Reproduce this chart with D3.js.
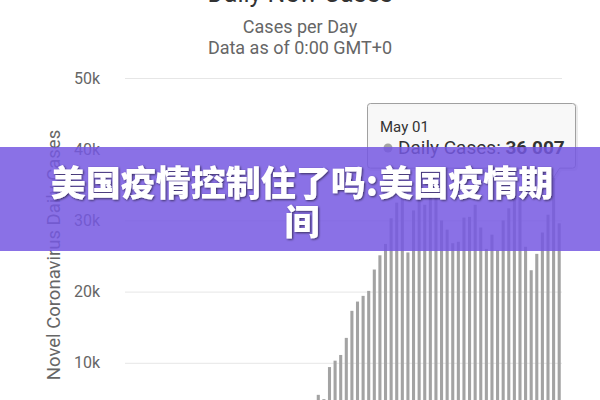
<!DOCTYPE html>
<html>
<head>
<meta charset="utf-8">
<script src="https://cdn.jsdelivr.net/npm/d3@7"></script>
<style>
  html, body { margin: 0; padding: 0; background: #fff; }
  svg { display: block; font-family: Roboto, "Noto Sans", sans-serif; }
</style>
</head>
<body>
<svg id="chart" width="600" height="400"></svg>
<script>
const dates = [
  "Feb 15","Feb 16","Feb 17","Feb 18","Feb 19","Feb 20","Feb 21","Feb 22","Feb 23","Feb 24","Feb 25","Feb 26","Feb 27","Feb 28","Feb 29",
  "Mar 01","Mar 02","Mar 03","Mar 04","Mar 05","Mar 06","Mar 07","Mar 08","Mar 09","Mar 10","Mar 11","Mar 12","Mar 13","Mar 14","Mar 15","Mar 16","Mar 17","Mar 18","Mar 19","Mar 20","Mar 21","Mar 22","Mar 23","Mar 24","Mar 25","Mar 26","Mar 27","Mar 28","Mar 29","Mar 30","Mar 31",
  "Apr 01","Apr 02","Apr 03","Apr 04","Apr 05","Apr 06","Apr 07","Apr 08","Apr 09","Apr 10","Apr 11","Apr 12","Apr 13","Apr 14","Apr 15","Apr 16","Apr 17","Apr 18","Apr 19","Apr 20","Apr 21","Apr 22","Apr 23","Apr 24","Apr 25","Apr 26","Apr 27","Apr 28","Apr 29","Apr 30",
  "May 01","May 02"
];
const dailyCases = [
  0,0,0,0,0,0,2,0,0,36,0,0,1,0,8,
  7,23,20,31,68,45,140,116,65,376,322,382,516,548,772,1133,1789,2800,4200,5500,4900,9400,10300,11100,13500,17300,18600,19400,20100,23100,25100,
  26700,30300,32500,33600,25500,31400,33600,32200,33600,33500,30000,28700,26800,27000,30400,30500,32200,29000,26000,28000,25800,30000,31700,34500,33800,26300,23000,25300,28300,30800,
  36007,29600
];
const yTicks = [0, 10000, 20000, 30000, 40000, 50000];
const yTickLabels = ["0", "10k", "20k", "30k", "40k", "50k"];
const titleText = "Daily New Cases";
const subtitleLines = ["Cases per Day", "Data as of 0:00 GMT+0"];
const yAxisTitle = "Novel Coronavirus Daily Cases";
const tooltipDate = "May 01";
const tooltipLabel = "Daily Cases: ";
const bannerLines = ["美国疫情控制住了吗:美国疫情期", "间"];

const svg = d3.select("#chart");
const W = 600, H = 400;
const plot = { left: 125, right: 562, top: 78, bottom: 434 };

svg.append("rect").attr("width", W).attr("height", H).attr("fill", "#fff");

const x = d3.scaleBand().domain(dates).range([plot.left, plot.right]).paddingInner(0.45).paddingOuter(0.225);
const y = d3.scaleLinear().domain([0, 50000]).range([plot.bottom, plot.top]);

// title & subtitles
svg.append("text").attr("x", 300).attr("y", 2).attr("text-anchor", "middle")
  .attr("font-size", 25).attr("fill", "#333").text(titleText);
svg.selectAll("text.sub").data(subtitleLines).join("text").attr("class", "sub")
  .attr("x", 300).attr("y", (d, i) => 33 + i * 21).attr("text-anchor", "middle")
  .attr("font-size", 18).attr("fill", "#666").text(d => d);

// grid + y axis labels
const yAxis = d3.axisLeft(y).tickValues(yTicks)
  .tickFormat((d, i) => yTickLabels[i])
  .tickSize(-(plot.right - plot.left)).tickPadding(25);
const gy = svg.append("g").attr("transform", `translate(${plot.left},0)`).call(yAxis);
gy.select(".domain").remove();
gy.selectAll(".tick line").attr("stroke", "#e6e6e6").attr("stroke-width", 1);
gy.selectAll(".tick text").attr("fill", "#666").attr("font-size", 16)
  .attr("font-family", "Roboto, sans-serif");

// y axis title
svg.append("text").attr("transform", `translate(60,255) rotate(-90)`)
  .attr("text-anchor", "middle").attr("font-size", 18.5).attr("fill", "#666").text(yAxisTitle);

// bars
svg.append("g").selectAll("rect").data(dates).join("rect")
  .attr("x", d => x(d)).attr("width", x.bandwidth())
  .attr("y", (d, i) => y(dailyCases[i]))
  .attr("height", (d, i) => plot.bottom - y(dailyCases[i]))
  .attr("fill", "#a3a3a3");

// tooltip
const tipIdx = dates.indexOf(tooltipDate);
const px = x(tooltipDate) + x.bandwidth() / 2;
const py = y(dailyCases[tipIdx]);
const bx0 = 367.5, bx1 = 575.5, by0 = 103.5, by1 = py - 9.5, r = 3;
const p = d3.path();
p.moveTo(bx0 + r, by0);
p.lineTo(bx1 - r, by0);
p.quadraticCurveTo(bx1, by0, bx1, by0 + r);
p.lineTo(bx1, by1 - r);
p.quadraticCurveTo(bx1, by1, bx1 - r, by1);
p.lineTo(px + 6, by1);
p.lineTo(px, py);
p.lineTo(px - 6, by1);
p.lineTo(bx0 + r, by1);
p.quadraticCurveTo(bx0, by1, bx0, by1 - r);
p.lineTo(bx0, by0 + r);
p.quadraticCurveTo(bx0, by0, bx0 + r, by0);
p.closePath();
svg.append("path").attr("d", p.toString()).attr("transform", "translate(1,1.5)")
  .attr("fill", "none").attr("stroke", "rgba(0,0,0,0.08)").attr("stroke-width", 3);
svg.append("path").attr("d", p.toString())
  .attr("fill", "rgba(247,247,247,0.9)").attr("stroke", "#a0a0a0").attr("stroke-width", 1);
svg.append("text").attr("x", 380).attr("y", 132).attr("font-size", 15).attr("fill", "#333").text(tooltipDate);
svg.append("circle").attr("cx", 388).attr("cy", 148).attr("r", 4.5).attr("fill", "#a3a3a3");
const fmt = d3.formatLocale({ decimal: ".", thousands: " ", grouping: [3], currency: ["", ""] }).format(",d");
const tt = svg.append("text").attr("x", 398).attr("y", 154).attr("font-size", 19).attr("fill", "#333");
tt.append("tspan").text(tooltipLabel);
tt.append("tspan").attr("font-weight", "bold").text(fmt(dailyCases[tipIdx]));

// banner overlay
svg.append("rect").attr("x", 0).attr("y", 147).attr("width", W).attr("height", 104)
  .attr("fill", "rgba(118, 88, 226, 0.85)");
const defs = svg.append("defs");
const f = defs.append("filter").attr("id", "sh").attr("x", "-10%").attr("y", "-20%").attr("width", "120%").attr("height", "140%");
f.append("feDropShadow").attr("dx", 1).attr("dy", 1).attr("stdDeviation", 1.2).attr("flood-color", "#000").attr("flood-opacity", 0.6);
svg.selectAll("text.banner").data(bannerLines).join("text").attr("class", "banner")
  .attr("x", 302).attr("y", (d, i) => 196 + i * 39).attr("text-anchor", "middle")
  .attr("font-family", "'Noto Sans CJK SC', sans-serif").attr("font-weight", 900)
  .attr("font-size", 35).attr("fill", "#fff").attr("filter", "url(#sh)").text(d => d);
</script>
</body>
</html>
